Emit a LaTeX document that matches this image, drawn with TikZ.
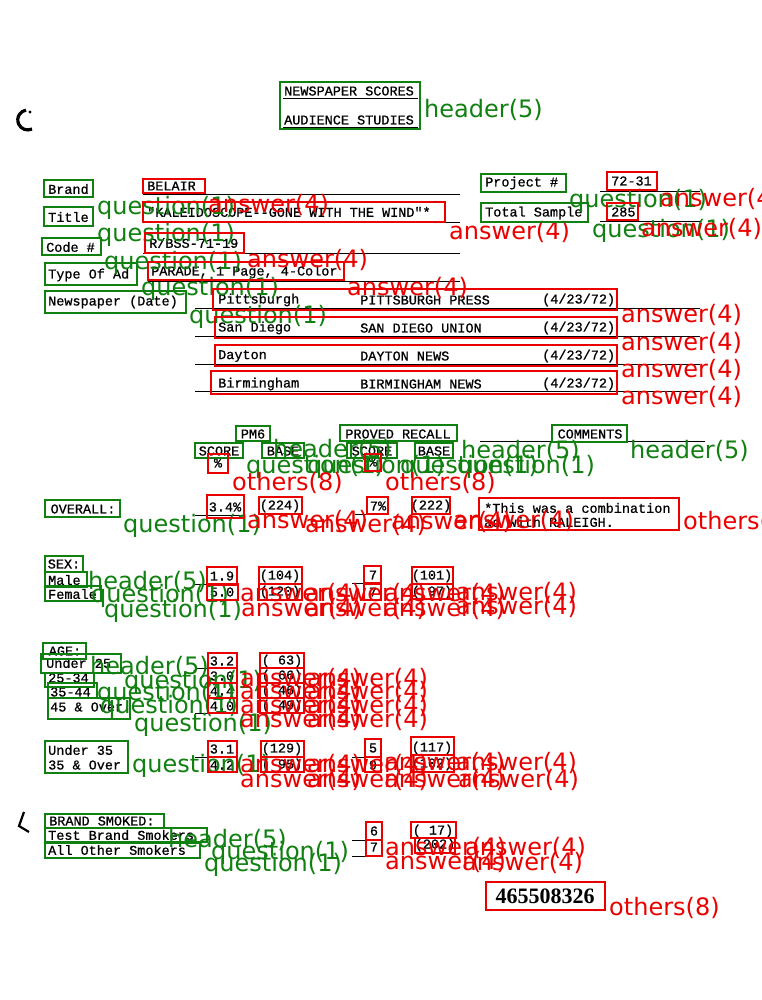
\documentclass[tikz,border=0pt]{standalone}
\usepackage{fontspec}
\newfontfamily\docfont[FakeBold=0.8]{Liberation Mono}
\newfontfamily\labfont{DejaVu Sans}
\newfontfamily\numfont{Liberation Serif}
\definecolor{grn}{RGB}{16,128,16}
\definecolor{rd}{RGB}{235,0,0}
\begin{document}
\begin{tikzpicture}[x=1pt,y=-1pt,
 doc/.style={font=\docfont\fontsize{13.5}{15}\selectfont, inner sep=0pt, text=black},
 docw/.style={doc, anchor=west},
 gbox/.style={draw=grn, line width=2.2pt},
 rbox/.style={draw=rd, line width=2.2pt},
 lab/.style={font=\labfont\fontsize{24}{26}\selectfont, inner sep=0pt, anchor=west},
 gl/.style={lab, text=grn},
 rl/.style={lab, text=rd},
 rule/.style={line width=0.8pt, black}]
\fill[white] (0,0) rectangle (762,1000);
\useasboundingbox (0,0) rectangle (762,1000);

% scan marks
\draw[line width=3.2pt, black] (32,129) arc (65:260:10);
\fill[black] (30,112) circle (1.6);
\draw[line width=2.2pt, black] (24,812) -- (19,826) -- (29,832);

% ---------------- document text ----------------
\node[docw] (t1) at (284,91) {NEWSPAPER SCORES};
\node[docw] (t2) at (284,120) {AUDIENCE STUDIES};
\draw[rule] (283,98) -- (418,98);
\draw[rule] (283,127) -- (418,127);

\node[docw] (t3) at (48,189) {Brand};
\node[docw] (t4) at (147,186) {BELAIR};
\draw[rule] (143,194) -- (460,194);
\node[docw] (t5) at (485,183) {Project \#};
\node[docw] (t6) at (611,181) {72-31};
\draw[rule] (600,191) -- (700,191);

\node[docw] (t7) at (48,217) {Title};
\node[docw] (t8) at (147,212) {"KALEIDOSCOPE--GONE WITH THE WIND"*};
\draw[rule] (143,222) -- (460,222);
\node[docw] (t9) at (485,213) {Total Sample};
\node[docw] (t10) at (611,212) {285};
\draw[rule] (600,221) -- (700,221);

\node[docw] (t11) at (46,247) {Code \#};
\node[docw] (t12) at (149,243) {R/BSS-71-19};
\draw[rule] (143,253) -- (460,253);
\node[docw] (t13) at (48,275) {Type Of Ad};
\node[docw] (t14) at (151,272) {PARADE, 1 Page, 4-Color};
\draw[rule] (148,281) -- (460,281);
\node[docw] (t15) at (48,302) {Newspaper (Date)};

\node[docw] (c1) at (218,300) {Pittsburgh};
\node[docw] (p1) at (360,300) {PITTSBURGH PRESS};
\node[docw] (d1) at (542,300) {(4/23/72)};
\node[docw] (c2) at (218,328) {San Diego};
\node[docw] (p2) at (360,328) {SAN DIEGO UNION};
\node[docw] (d2) at (542,328) {(4/23/72)};
\node[docw] (c3) at (218,356) {Dayton};
\node[docw] (p3) at (360,356) {DAYTON NEWS};
\node[docw] (d3) at (542,356) {(4/23/72)};
\node[docw] (c4) at (218,384) {Birmingham};
\node[docw] (p4) at (360,384) {BIRMINGHAM NEWS};
\node[docw] (d4) at (542,384) {(4/23/72)};
\foreach \yy in {308,336,364,391} \draw[rule] (195,\yy) -- (700,\yy);

% table header
\node[doc] (h1) at (253,434) {PM6};
\node[doc] (h2) at (219,451) {SCORE};
\node[doc] (h3) at (283,451) {BASE};
\node[doc] (h4) at (398,434) {PROVED RECALL};
\node[doc] (h5) at (372,451) {SCORE};
\node[doc] (h6) at (434,451) {BASE};
\node[doc] (h7) at (590,434) {COMMENTS};
\draw[rule] (343,441) -- (454,441);
\draw[rule] (480,441) -- (705,441);
\draw[rule] (197,457) -- (241,457);
\draw[rule] (264,457) -- (302,457);
\draw[rule] (350,457) -- (394,457);
\draw[rule] (417,457) -- (451,457);
\node[doc] (h8) at (218,463) {\%};
\node[doc] (h9) at (373,462) {\%};

% overall
\node[doc] (o1) at (83,509) {OVERALL:};
\draw[rule] (48,516) -- (118,516);
\node[doc] (o2) at (225,507) {3.4\%};
\node[doc] (o3) at (280,506) {(224)};
\node[doc] (o4) at (378,506) {7\%};
\node[doc] (o5) at (431,506) {(222)};
\node[docw] (o6) at (484,508) {*This was a combination};
\node[docw] (o7) at (484,522) {ad with RALEIGH.};
\draw[rule] (195,515) -- (244,515);
\draw[rule] (355,514) -- (388,514);

% sex
\node[doc] (s1) at (64,564) {SEX:};
\node[docw] (s2) at (48,580) {Male};
\node[docw] (s3) at (48,594) {Female};
\node[doc] (s4) at (222,576) {1.9};
\node[doc] (s5) at (280,576) {(104)};
\node[doc] (s6) at (373,575) {7};
\node[doc] (s7) at (432,576) {(101)};
\node[doc] (s8) at (222,592) {5.0};
\node[doc] (s9) at (280,592) {(120)};
\node[doc] (s10) at (373,592) {7};
\node[doc] (s11) at (432,592) {( 97)};
\draw[rule] (195,584) -- (207,584);
\draw[rule] (352,583) -- (364,583);

% age
\node[doc] (a1) at (65,651) {AGE:};
\node[docw] (a2) at (46,663) {Under 25};
\node[docw] (a3) at (48,678) {25-34};
\node[docw] (a4) at (50,692) {35-44};
\node[docw] (a5) at (50,707) {45 \& Over};
\node[doc] (a6) at (222,661) {3.2};
\node[doc] (a7) at (282,661) {( 63)};
\node[doc] (a8) at (222,676) {3.0};
\node[doc] (a9) at (282,676) {( 66)};
\node[doc] (a10) at (222,691) {4.4};
\node[doc] (a11) at (282,691) {( 46)};
\node[doc] (a12) at (222,706) {4.0};
\node[doc] (a13) at (282,706) {( 49)};
\draw[rule] (195,668) -- (207,668);
\draw[rule] (195,713) -- (207,713);

\node[docw] (u1) at (48,750) {Under 35};
\node[docw] (u2) at (48,765) {35 \& Over};
\node[doc] (u3) at (222,749) {3.1};
\node[doc] (u4) at (282,749) {(129)};
\node[doc] (u5) at (373,748) {5};
\node[doc] (u6) at (432,748) {(117)};
\node[doc] (u7) at (222,765) {4.2};
\node[doc] (u8) at (282,765) {( 95)};
\node[doc] (u9) at (373,765) {9};
\node[doc] (u10) at (432,764) {(102)};
\draw[rule] (195,757) -- (207,757);
\draw[rule] (352,757) -- (364,757);

% brand smoked
\node[docw] (m1) at (49,821) {BRAND SMOKED:};
\node[docw] (m2) at (48,835) {Test Brand Smokers};
\node[docw] (m3) at (48,850) {All Other Smokers};
\draw[rule] (48,828) -- (162,828);
\node[doc] (m4) at (374,831) {6};
\node[doc] (m5) at (433,831) {( 17)};
\node[doc] (m6) at (374,847) {7};
\node[doc] (m7) at (435,845) {(202)};
\draw[rule] (352,840) -- (382,840);
\draw[rule] (352,856) -- (382,856);
\node[font=\numfont\bfseries\fontsize{22}{24}\selectfont, inner sep=0pt] (n1) at (545,896) {465508326};

% ---------------- boxes and labels ----------------
\draw[gbox] (280,82) rectangle (420,129);
\node[gl] (L1) at (424,110) {header(5)};

\draw[gbox] (44,180) rectangle (93,197);
\node[gl] (L2) at (97,208) {question(1)};
\draw[rbox] (143,179) rectangle (205,193);
\node[rl] (L3) at (208,205) {answer(4)};
\draw[gbox] (481,174) rectangle (566,192);
\node[gl] (L4) at (569,201) {question(1)};
\draw[rbox] (607,172) rectangle (657,190);
\node[rl] (L5) at (660,199) {answer(4)};

\draw[gbox] (44,207) rectangle (93,226);
\node[gl] (L6) at (97,235) {question(1)};
\draw[rbox] (143,202) rectangle (445,222);
\node[rl] (L7) at (449,232) {answer(4)};
\draw[gbox] (481,203) rectangle (588,222);
\node[gl] (L8) at (592,231) {question(1)};
\draw[rbox] (607,203) rectangle (638,220);
\node[rl] (L9) at (641,229) {answer(4)};

\draw[gbox] (42,238) rectangle (101,255);
\node[gl] (L10) at (104,263) {question(1)};
\draw[rbox] (145,233) rectangle (244,253);
\node[rl] (L11) at (247,260) {answer(4)};
\draw[gbox] (45,263) rectangle (137,285);
\node[gl] (L12) at (141,289) {question(1)};
\draw[rbox] (148,262) rectangle (344,280);
\node[rl] (L13) at (347,288) {answer(4)};
\draw[gbox] (45,291) rectangle (186,313);
\node[gl] (L14) at (189,317) {question(1)};

\draw[rbox] (213,289) rectangle (617,310);
\node[rl] (L15) at (621,315) {answer(4)};
\draw[rbox] (215,317) rectangle (617,338);
\node[rl] (L16) at (621,343) {answer(4)};
\draw[rbox] (215,345) rectangle (617,366);
\node[rl] (L17) at (621,370) {answer(4)};
\draw[rbox] (211,371) rectangle (617,394);
\node[rl] (L18) at (621,397) {answer(4)};

% table header
\draw[gbox] (236,426) rectangle (270,441);
\node[gl] (L19) at (273,450) {header(5)};
\draw[gbox] (340,425) rectangle (457,441);
\node[gl] (L20) at (461,451) {header(5)};
\draw[gbox] (552,425) rectangle (627,442);
\node[gl] (L21) at (630,451) {header(5)};
\draw[gbox] (195,443) rectangle (243,458);
\node[gl] (L22) at (246,467) {question(1)};
\draw[gbox] (262,443) rectangle (304,458);
\node[gl] (L23) at (307,467) {question(1)};
\draw[gbox] (347,443) rectangle (397,458);
\node[gl] (L24) at (400,467) {question(1)};
\draw[gbox] (415,443) rectangle (453,458);
\node[gl] (L25) at (457,467) {question(1)};
\draw[rbox] (208,454) rectangle (228,473);
\node[rl] (L26) at (232,483) {others(8)};
\draw[rbox] (365,454) rectangle (381,471);
\node[rl] (L27) at (385,483) {others(8)};

% overall
\draw[gbox] (45,500) rectangle (120,517);
\node[gl] (L28) at (123,526) {question(1)};
\draw[rbox] (207,495) rectangle (244,518);
\node[rl] (L29) at (247,521) {answer(4)};
\draw[rbox] (259,497) rectangle (302,514);
\node[rl] (L30) at (305,525) {answer(4)};
\draw[rbox] (367,497) rectangle (388,514);
\node[rl] (L31) at (391,522) {answer(4)};
\draw[rbox] (412,497) rectangle (450,514);
\node[rl] (L32) at (453,521) {answer(4)};
\draw[rbox] (479,498) rectangle (679,530);
\node[rl] (L33) at (683,522) {others(8)};

% sex
\draw[gbox] (45,556) rectangle (83,572);
\node[gl] (L34) at (88,582) {header(5)};
\draw[gbox] (45,572) rectangle (87,587);
\node[gl] (L35) at (91,596) {question(1)};
\draw[gbox] (45,586) rectangle (101,601);
\node[gl] (L36) at (104,611) {question(1)};
\draw[rbox] (207,567) rectangle (237,585);
\node[rl] (L37) at (240,594) {answer(4)};
\draw[rbox] (259,567) rectangle (302,584);
\node[rl] (L38) at (305,594) {answer(4)};
\draw[rbox] (364,566) rectangle (381,583);
\node[rl] (L39) at (384,594) {answer(4)};
\draw[rbox] (412,567) rectangle (453,584);
\node[rl] (L40) at (456,593) {answer(4)};
\draw[rbox] (207,584) rectangle (238,600);
\node[rl] (L41) at (241,609) {answer(4)};
\draw[rbox] (259,584) rectangle (302,600);
\node[rl] (L42) at (305,609) {answer(4)};
\draw[rbox] (364,584) rectangle (381,600);
\node[rl] (L43) at (384,609) {answer(4)};
\draw[rbox] (412,584) rectangle (453,599);
\node[rl] (L44) at (456,607) {answer(4)};

% age
\draw[gbox] (43,643) rectangle (86,659);
\node[gl] (L45) at (90,667) {header(5)};
\draw[gbox] (41,654) rectangle (121,673);
\node[gl] (L46) at (124,682) {question(1)};
\draw[gbox] (45,673) rectangle (94,687);
\node[gl] (L47) at (97,694) {question(1)};
\draw[gbox] (48,683) rectangle (97,698);
\node[gl] (L48) at (100,707) {question(1)};
\draw[gbox] (48,698) rectangle (130,719);
\node[gl] (L49) at (134,725) {question(1)};
\draw[rbox] (208,653) rectangle (237,668);
\node[rl] (L50) at (240,679) {answer(4)};
\draw[rbox] (260,653) rectangle (304,668);
\node[rl] (L51) at (307,679) {answer(4)};
\draw[rbox] (208,668) rectangle (237,683);
\node[rl] (L52) at (240,692) {answer(4)};
\draw[rbox] (260,668) rectangle (304,683);
\node[rl] (L53) at (307,692) {answer(4)};
\draw[rbox] (208,683) rectangle (237,698);
\node[rl] (L54) at (240,706) {answer(4)};
\draw[rbox] (260,683) rectangle (304,698);
\node[rl] (L55) at (307,706) {answer(4)};
\draw[rbox] (208,698) rectangle (237,713);
\node[rl] (L56) at (240,720) {answer(4)};
\draw[rbox] (260,698) rectangle (304,713);
\node[rl] (L57) at (307,720) {answer(4)};

\draw[gbox] (45,741) rectangle (128,773);
\node[gl] (L58) at (132,766) {question(1)};
\draw[rbox] (208,741) rectangle (237,757);
\node[rl] (L59) at (240,765) {answer(4)};
\draw[rbox] (261,741) rectangle (304,757);
\node[rl] (L60) at (307,765) {answer(4)};
\draw[rbox] (365,739) rectangle (381,757);
\node[rl] (L61) at (384,763) {answer(4)};
\draw[rbox] (411,737) rectangle (454,755);
\node[rl] (L62) at (456,763) {answer(4)};
\draw[rbox] (208,757) rectangle (237,772);
\node[rl] (L63) at (240,780) {answer(4)};
\draw[rbox] (261,757) rectangle (304,772);
\node[rl] (L64) at (307,780) {answer(4)};
\draw[rbox] (365,757) rectangle (381,772);
\node[rl] (L65) at (384,780) {answer(4)};
\draw[rbox] (411,755) rectangle (454,772);
\node[rl] (L66) at (458,780) {answer(4)};

% brand smoked
\draw[gbox] (45,814) rectangle (164,828);
\node[gl] (L67) at (168,840) {header(5)};
\draw[gbox] (45,828) rectangle (207,842);
\node[gl] (L68) at (211,853) {question(1)};
\draw[gbox] (45,843) rectangle (200,858);
\node[gl] (L69) at (204,865) {question(1)};
\draw[rbox] (366,822) rectangle (382,840);
\node[rl] (L70) at (385,848) {answer(4)};
\draw[rbox] (411,822) rectangle (456,838);
\node[rl] (L71) at (465,848) {answer(4)};
\draw[rbox] (366,840) rectangle (382,856);
\node[rl] (L72) at (385,862) {answer(4)};
\draw[rbox] (415,838) rectangle (455,853);
\node[rl] (L73) at (462,863) {answer(4)};
\draw[rbox] (486,882) rectangle (605,910);
\node[rl] (L74) at (609,908) {others(8)};
\end{tikzpicture}
\end{document}
